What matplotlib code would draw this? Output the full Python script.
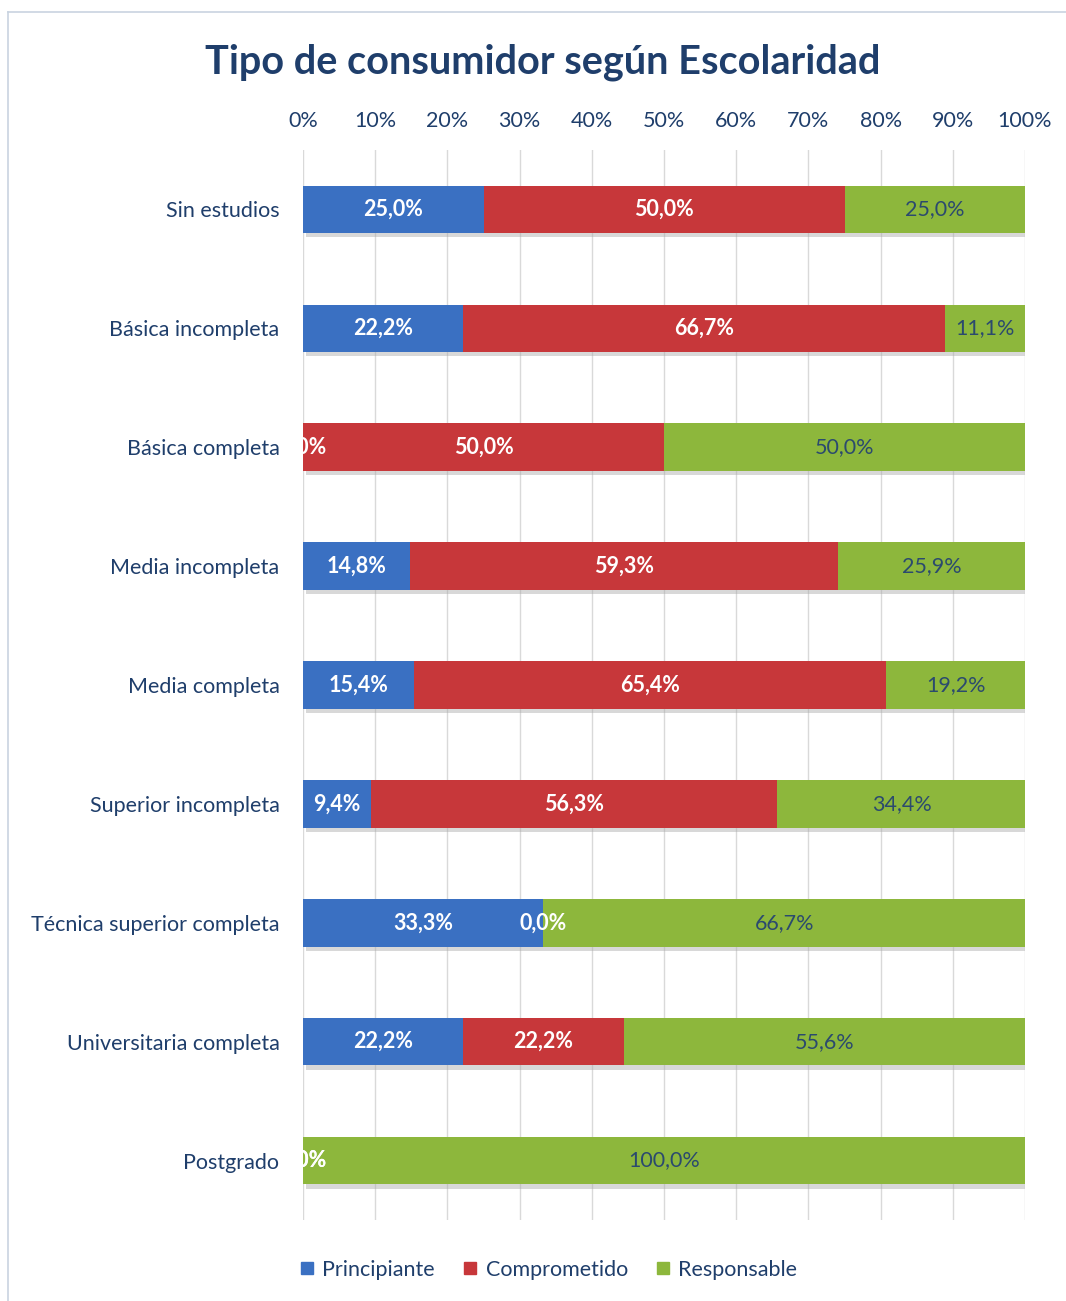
import matplotlib
matplotlib.use("Agg")
import matplotlib.pyplot as plt
import matplotlib.patheffects as pe
from matplotlib.lines import Line2D
import numpy as np

plt.rcParams["font.family"] = ["Lato", "DejaVu Sans"]

categories = ["Sin estudios", "Básica incompleta", "Básica completa", "Media incompleta",
              "Media completa", "Superior incompleta", "Técnica superior completa",
              "Universitaria completa", "Postgrado"]
principiante = [25.0, 22.2, 0.0, 14.8, 15.4, 9.4, 33.3, 22.2, 0.0]
comprometido = [50.0, 66.7, 50.0, 59.3, 65.4, 56.3, 0.0, 22.2, 0.0]
responsable = [25.0, 11.1, 50.0, 25.9, 19.2, 34.4, 66.7, 55.6, 100.0]
series = ["Principiante", "Comprometido", "Responsable"]
colors = ["#3a70c2", "#c7373a", "#8db73c"]
label_colors = ["white", "white", "#2b4a6e"]
label_weights = ["bold", "bold", "normal"]
xticks = np.arange(0, 101, 10)

text_color = "#1f3e6b"

fig = plt.figure(figsize=(10.66, 13.01), dpi=100)
ax = fig.add_axes([303 / 1066, 1 - 1220 / 1301, 722 / 1066, 1070 / 1301])

y = np.arange(len(categories))
left = np.zeros(len(categories))
shadow = [pe.SimplePatchShadow(offset=(2, -3), shadow_rgbFace="#aaaaaa", alpha=0.45), pe.Normal()]
for vals, name, col, lc, lw in zip([principiante, comprometido, responsable], series,
                                   colors, label_colors, label_weights):
    vals = np.array(vals)
    bars = ax.barh(y, vals, left=left, height=0.40, color=col, label=name, zorder=3)
    for b in bars:
        b.set_path_effects(shadow)
    for yi, v, l in zip(y, vals, left):
        ax.text(l + v / 2, yi, f"{v:.1f}%".replace(".", ","), ha="center", va="center",
                color=lc, fontsize=15.5, fontweight=lw, zorder=5, clip_on=True)
    left = left + vals

ax.set_xlim(0, 100)
ax.set_ylim(len(categories) - 0.5, -0.5)
ax.set_xticks(xticks)
ax.set_xticklabels([f"{t}%" for t in xticks])
ax.xaxis.tick_top()
ax.tick_params(axis="x", length=0, pad=14, labelsize=15.5, labelcolor=text_color)
ax.set_yticks(y)
ax.set_yticklabels(categories)
ax.tick_params(axis="y", length=0, pad=17, labelsize=15.5, labelcolor=text_color)
ax.grid(axis="x", color="#d9d9d9", linewidth=1, zorder=0)
for s in ax.spines.values():
    s.set_visible(False)

fig.text(543 / 1066, 1 - 62 / 1301, "Tipo de consumidor según Escolaridad", ha="center",
         va="center", fontsize=28.5, fontweight="bold", color=text_color)

handles = [Line2D([], [], marker="s", linestyle="none", markersize=9, color=c) for c in colors]
fig.legend(handles, series, loc="center", bbox_to_anchor=(548 / 1066, 1 - 1270 / 1301),
           ncol=3, frameon=False, fontsize=15.5, labelcolor=text_color, handlelength=0.8,
           handletextpad=0.3, columnspacing=1.25)

# chart area frame
fig.add_artist(Line2D([8 / 1066, 8 / 1066], [0, 1 - 12 / 1301], color="#c9d3e0", linewidth=1.2))
fig.add_artist(Line2D([8 / 1066, 1], [1 - 12 / 1301, 1 - 12 / 1301], color="#c9d3e0", linewidth=1.2))

fig.savefig("out.png", dpi=100)
plt.close(fig)
